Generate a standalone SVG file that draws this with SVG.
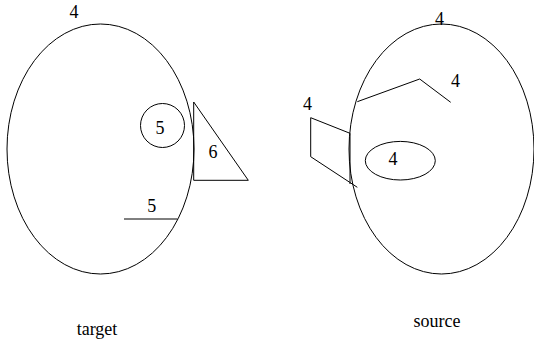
<svg xmlns="http://www.w3.org/2000/svg" width="534" height="343" viewBox="0 0 534 343">
<style>
.s{fill:none;stroke:#000;stroke-width:1}
.t{font-family:'Liberation Serif','Times New Roman','DejaVu Serif',serif;font-size:18px;fill:#000;text-anchor:middle}
</style>
<rect width="534" height="343" fill="#fff"/>
<g id="target">
<ellipse class="s" cx="100.5" cy="149" rx="93.5" ry="125"/>
<text class="t" x="74" y="18">4</text>
</g>
<g id="circle5">
<circle class="s" cx="162.5" cy="125.5" r="22"/>
<text class="t" x="160" y="134">5</text>
</g>
<g id="triangle6">
<polygon class="s" points="193.7,102 193.7,180.3 248.3,180.3"/>
<text class="t" x="213" y="158">6</text>
</g>
<g id="line5">
<line class="s" x1="124" y1="219" x2="177.7" y2="219"/>
<text class="t" x="151.7" y="212">5</text>
</g>
<g id="source">
<ellipse class="s" cx="441.5" cy="149" rx="92.5" ry="125"/>
<text class="t" x="439.5" y="25">4</text>
</g>
<g id="polyline4">
<polyline class="s" points="357.3,101.7 419.7,79 450.7,102.3"/>
<text class="t" x="455.5" y="87">4</text>
</g>
<g id="quad4">
<polyline class="s" points="357.3,187.3 310.7,156.7 310.7,117.7 350,133.3 350,184"/>
<text class="t" x="307.5" y="110">4</text>
</g>
<g id="ellipse4">
<ellipse class="s" cx="400.3" cy="160.7" rx="35" ry="19.3"/>
<text class="t" x="393" y="165">4</text>
</g>
<g id="labels">
<text class="t" x="97" y="335">target</text>
<text class="t" x="437" y="327">source</text>
</g>
<g id="connectors"></g>
</svg>
